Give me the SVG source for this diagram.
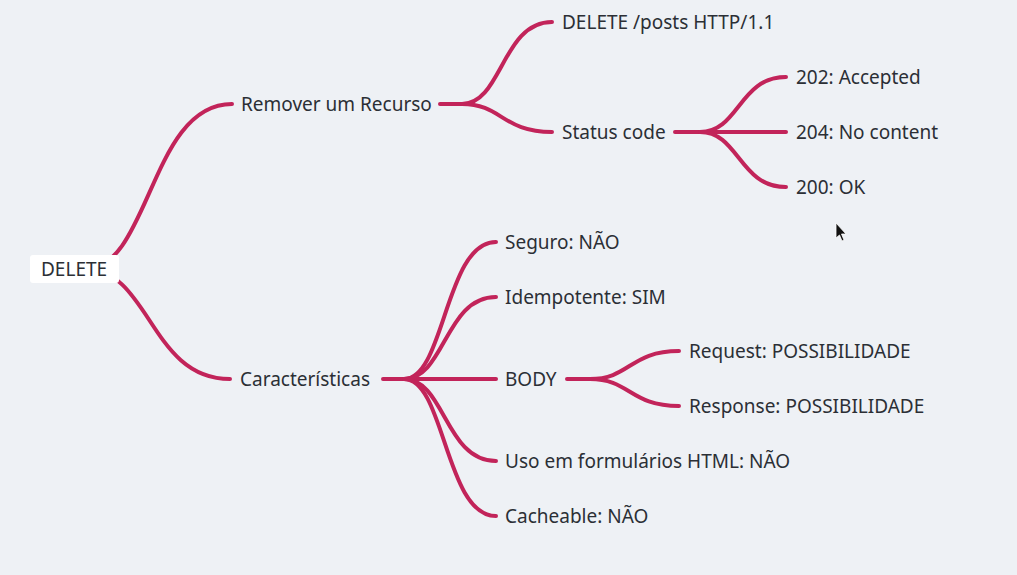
<svg xmlns="http://www.w3.org/2000/svg" width="1017" height="575" viewBox="0 0 1017 575">
<style>
.bg{fill:#eef1f5}
.ln{fill:none;stroke:#c2245a;stroke-width:4;stroke-linecap:round;stroke-linejoin:round}
.t{font-family:"Noto Sans","Liberation Sans",sans-serif;font-size:19px;fill:#2b2f35}
.rootbox{fill:#ffffff}
</style>
<rect class="bg" x="0" y="0" width="1017" height="575"/>
<g id="connectors">
<path class="ln" d="M85 269 C150 269 150 104 232 104"/>
<path class="ln" d="M85 269 C150 269 150 379 230 379"/>
<path class="ln" d="M440 104 L462 104 C502 104 502 22 552 22"/>
<path class="ln" d="M462 104 C502 104 502 132 552 132"/>
<path class="ln" d="M675 132 L700 132 C739 132 739 77 786 77"/>
<path class="ln" d="M700 132 L786 132"/>
<path class="ln" d="M700 132 C739 132 739 187 786 187"/>
<path class="ln" d="M383 379 L404 379 C445 379 445 242 496 242"/>
<path class="ln" d="M404 379 C445 379 445 297 496 297"/>
<path class="ln" d="M404 379 L496 379"/>
<path class="ln" d="M404 379 C445 379 445 461 496 461"/>
<path class="ln" d="M404 379 C445 379 445 516 496 516"/>
<path class="ln" d="M567 379 L590 379 C630 379 630 351 679 351"/>
<path class="ln" d="M590 379 C630 379 630 406 679 406"/>
</g>
<g id="root"><rect class="rootbox" x="30" y="255" width="89" height="28" rx="3"/><text class="t" x="41" y="276">DELETE</text></g>
<g id="remover"><text class="t" x="241" y="111">Remover um Recurso</text></g>
<g id="delete-posts"><text class="t" x="562" y="29">DELETE /posts HTTP/1.1</text></g>
<g id="status-code"><text class="t" x="562" y="139">Status code</text></g>
<g id="s202"><text class="t" x="796" y="84">202: Accepted</text></g>
<g id="s204"><text class="t" x="796" y="139">204: No content</text></g>
<g id="s200"><text class="t" x="796" y="194">200: OK</text></g>
<g id="caracteristicas"><text class="t" x="240" y="386">Características</text></g>
<g id="seguro"><text class="t" x="505" y="249">Seguro: NÃO</text></g>
<g id="idempotente"><text class="t" x="505" y="304">Idempotente: SIM</text></g>
<g id="body"><text class="t" x="505" y="386">BODY</text></g>
<g id="request"><text class="t" x="689" y="358">Request: POSSIBILIDADE</text></g>
<g id="response"><text class="t" x="689" y="413">Response: POSSIBILIDADE</text></g>
<g id="uso"><text class="t" x="505" y="468">Uso em formulários HTML: NÃO</text></g>
<g id="cacheable"><text class="t" x="505" y="523">Cacheable: NÃO</text></g>
<path d="M836 223 L836 238 L839.5 235 L842 241 L844 240 L841.5 234 L846 234 Z" fill="#111" stroke="#fff" stroke-width="0.8"/>
</svg>
